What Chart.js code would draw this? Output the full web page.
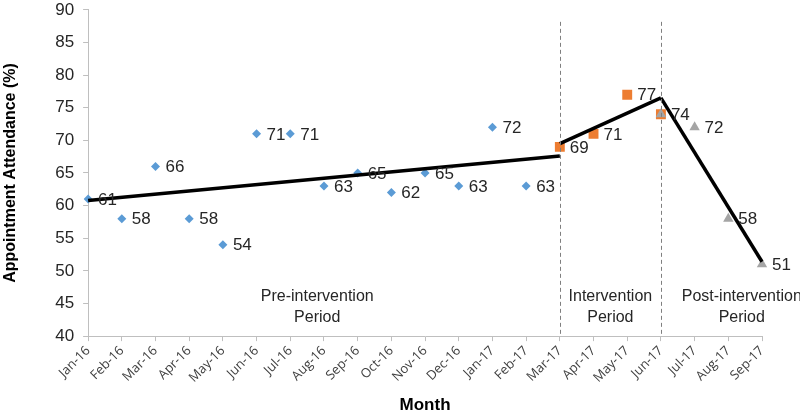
<!DOCTYPE html>
<html>
<head>
<meta charset="utf-8">
<script src="https://cdn.jsdelivr.net/npm/chart.js@4.4.0/dist/chart.umd.min.js"></script>
<style>
  html, body { margin: 0; padding: 0; background: #fff; }
  #wrap { width: 800px; height: 416px; position: relative; }
</style>
</head>
<body>
<div id="wrap"><canvas id="chart"></canvas></div>
<script>
const months = ['Jan-16', 'Feb-16', 'Mar-16', 'Apr-16', 'May-16', 'Jun-16', 'Jul-16',
  'Aug-16', 'Sep-16', 'Oct-16', 'Nov-16', 'Dec-16', 'Jan-17', 'Feb-17', 'Mar-17',
  'Apr-17', 'May-17', 'Jun-17', 'Jul-17', 'Aug-17', 'Sep-17'];

const preMonths = months.slice(0, 14);
const preValues = [61, 58, 66, 58, 54, 71, 71, 63, 65, 62, 65, 63, 72, 63];

const interventionMonths = ['Mar-17', 'Apr-17', 'May-17', 'Jun-17'];
const interventionValues = [69, 71, 77, 74];

const postMonths = ['Jun-17', 'Jul-17', 'Aug-17', 'Sep-17'];
const postValues = [74, 72, 58, 51];

// trend segments (start/end month, start/end value)
const preTrendMonths = ['Jan-16', 'Mar-17'];
const preTrendValues = [60.8, 67.6];
const interventionTrendMonths = ['Mar-17', 'Jun-17'];
const interventionTrendValues = [69.5, 76.5];
const postTrendMonths = ['Jun-17', 'Sep-17'];
const postTrendValues = [76.5, 51.4];

const boundaryMonths = ['Mar-17', 'Jun-17'];
const periodLabels = [
  { lines: ['Pre-intervention', 'Period'], at: 6.8 },
  { lines: ['Intervention', 'Period'], at: 15.5 },
  { lines: ['Post-intervention', 'Period'], at: 19.4 }
];

const yTicks = { min: 40, max: 90, step: 5 };

const toPoints = (xs, ys) => xs.map((x, i) => ({ x: x, y: ys[i] }));

const TEXT = '#262626';
const ARIAL = '"Liberation Sans", Arial, sans-serif';

const extrasPlugin = {
  id: 'extras',
  afterDatasetsDraw(chart) {
    const ctx = chart.ctx;
    const xs = chart.scales.x;
    const ys = chart.scales.y;
    const area = chart.chartArea;

    // dashed boundaries
    ctx.save();
    ctx.strokeStyle = '#7f7f7f';
    ctx.lineWidth = 1;
    ctx.setLineDash([4, 3]);
    boundaryMonths.forEach(m => {
      const px = Math.round(xs.getPixelForValue(months.indexOf(m))) + 0.5;
      ctx.beginPath();
      ctx.moveTo(px, area.top + 12);
      ctx.lineTo(px, area.bottom);
      ctx.stroke();
    });
    ctx.restore();

    // value labels (skip duplicates at shared points)
    ctx.save();
    ctx.font = '17px ' + ARIAL;
    ctx.fillStyle = TEXT;
    ctx.textAlign = 'left';
    ctx.textBaseline = 'middle';
    const seen = new Set();
    [0, 1, 2].forEach(di => {
      const meta = chart.getDatasetMeta(di);
      const ds = chart.data.datasets[di];
      meta.data.forEach((pt, i) => {
        const key = ds.data[i].x + ':' + ds.data[i].y;
        if (seen.has(key)) return;
        seen.add(key);
        ctx.fillText(String(ds.data[i].y), pt.x + 10, pt.y + 1);
      });
    });

    // period captions
    ctx.font = '16px ' + ARIAL;
    ctx.textAlign = 'center';
    periodLabels.forEach(p => {
      const px = xs.getPixelForValue(p.at);
      p.lines.forEach((ln, k) => {
        ctx.fillText(ln, px, ys.getPixelForValue(46.1) + k * 21);
      });
    });
    ctx.restore();
  }
};

new Chart(document.getElementById('chart'), {
  type: 'line',
  data: {
    labels: months,
    datasets: [
      {
        label: 'Pre-intervention',
        data: toPoints(preMonths, preValues),
        showLine: false,
        pointStyle: 'rectRot',
        pointRadius: 4.5,
        backgroundColor: '#5b9bd5',
        borderColor: '#5b9bd5',
        pointBorderWidth: 0,
        order: 3
      },
      {
        label: 'Intervention',
        data: toPoints(interventionMonths, interventionValues),
        showLine: false,
        pointStyle: 'rect',
        pointRadius: 7,
        backgroundColor: '#ed7d31',
        borderColor: '#ed7d31',
        pointBorderWidth: 0,
        order: 2
      },
      {
        label: 'Post-intervention',
        data: toPoints(postMonths, postValues),
        showLine: false,
        pointStyle: 'triangle',
        pointRadius: 6,
        backgroundColor: '#a5a5a5',
        borderColor: '#a5a5a5',
        pointBorderWidth: 0,
        order: 1
      },
      {
        label: 'Pre trend',
        data: toPoints(preTrendMonths, preTrendValues),
        borderColor: '#000',
        borderWidth: 3.5,
        pointRadius: 0,
        spanGaps: true,
        order: 0
      },
      {
        label: 'Intervention trend',
        data: toPoints(interventionTrendMonths, interventionTrendValues),
        borderColor: '#000',
        borderWidth: 3.5,
        pointRadius: 0,
        spanGaps: true,
        order: 0
      },
      {
        label: 'Post trend',
        data: toPoints(postTrendMonths, postTrendValues),
        borderColor: '#000',
        borderWidth: 3.5,
        pointRadius: 0,
        spanGaps: true,
        order: 0
      }
    ]
  },
  options: {
    responsive: true,
    maintainAspectRatio: false,
    animation: false,
    layout: { padding: { top: 0, right: 38, bottom: 0, left: 1 } },
    plugins: {
      legend: { display: false },
      tooltip: { enabled: false }
    },
    scales: {
      x: {
        type: 'category',
        offset: false,
        grid: {
          display: true,
          drawOnChartArea: false,
          drawTicks: true,
          tickLength: 5,
          color: '#bfbfbf'
        },
        border: { color: '#bfbfbf', width: 1 },
        ticks: {
          autoSkip: false,
          maxRotation: 45,
          minRotation: 45,
          padding: 2,
          color: '#404040',
          font: { family: '"Open Sans", sans-serif', size: 13 }
        },
        title: {
          display: true,
          text: 'Month',
          color: '#000',
          padding: { top: 8, bottom: 0 },
          font: { family: ARIAL, size: 17, weight: 'bold' }
        }
      },
      y: {
        min: yTicks.min,
        max: yTicks.max,
        grid: {
          display: true,
          drawOnChartArea: false,
          drawTicks: true,
          tickLength: 5,
          color: '#bfbfbf'
        },
        border: { color: '#bfbfbf', width: 1 },
        ticks: {
          stepSize: yTicks.step,
          padding: 9,
          color: TEXT,
          font: { family: ARIAL, size: 17, lineHeight: 0.1 }
        },
        title: {
          display: true,
          text: 'Appointment Attendance (%)',
          color: '#000',
          padding: { top: 0, bottom: 26 },
          font: { family: ARIAL, size: 16, weight: 'bold' }
        }
      }
    }
  },
  plugins: [extrasPlugin]
});
</script>
</body>
</html>
